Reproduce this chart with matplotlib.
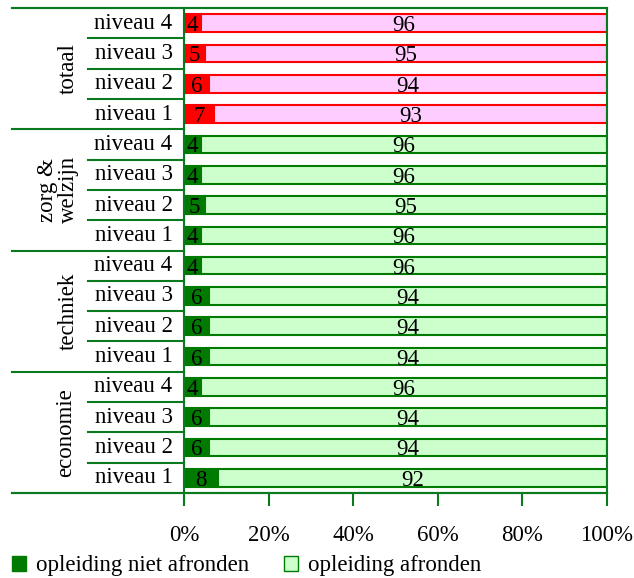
import matplotlib.pyplot as plt
from matplotlib.patches import Patch

# data, top to bottom
groups = ['totaal', 'zorg &\nwelzijn', 'techniek', 'economie']
levels = ['niveau 4', 'niveau 3', 'niveau 2', 'niveau 1']
niet_afronden = [4, 5, 6, 7,
                 4, 4, 5, 4,
                 4, 6, 6, 6,
                 4, 6, 6, 8]
afronden = [96, 95, 94, 93,
            96, 96, 95, 96,
            96, 94, 94, 94,
            96, 94, 94, 92]

green = '#0A7A1E'
dark = '#007A00'
light = '#CCFFCC'
red = '#FF0000'
pink = '#FFCCFF'

plt.rcParams['font.family'] = ['Liberation Serif', 'DejaVu Serif']
plt.rcParams['font.size'] = 16.5

fig = plt.figure(figsize=(6.34, 5.78), dpi=100)
ax = fig.add_axes([184 / 634, 1 - 493 / 578, 423 / 634, 485 / 578])

n = len(niet_afronden)
ys = list(range(n))
for i in ys:
    first = i < 4
    c1, c2, ec = (red, pink, red) if first else (dark, light, dark)
    ax.barh(i, niet_afronden[i], height=0.58, color=c1, edgecolor=ec, linewidth=1.5)
    ax.barh(i, afronden[i], left=niet_afronden[i], height=0.58,
            color=c2, edgecolor=ec, linewidth=1.5)
    ax.text(niet_afronden[i] / 2, i + 0.08, str(niet_afronden[i]), ha='center', va='center')
    ax.text(niet_afronden[i] + afronden[i] / 2, i + 0.08, str(afronden[i]),
            ha='center', va='center')

ax.set_xlim(0, 100)
ax.set_ylim(n - 0.5, -0.5)
ax.set_yticks([])
ax.set_xticks([0, 20, 40, 60, 80, 100])
ax.set_xticklabels(['0%', '20%', '40%', '60%', '80%', '100%'])
ax.tick_params(axis='x', length=9, width=1.5, color=green, pad=14)
for s in ax.spines.values():
    s.set_color(green)
    s.set_linewidth(1.5)

# row labels and separators on the left
trans = ax.get_yaxis_transform()
x_outer = (12 - 184) / 423
x_inner = (88 - 184) / 423
for i in ys:
    ax.text(-0.027, i, levels[i % 4], transform=trans, ha='right', va='center')
for k in range(n + 1):
    x0 = x_outer if k % 4 == 0 else x_inner
    ax.plot([x0, 0], [k - 0.5, k - 0.5], transform=trans, color=green,
            lw=1.5, clip_on=False)
ax.plot([x_outer, 1], [-0.5, -0.5], transform=trans, color=green, lw=1.5, clip_on=False)
ax.plot([x_outer, 1], [n - 0.5, n - 0.5], transform=trans, color=green, lw=1.5, clip_on=False)

gx = [(68 - 184) / 423, (58 - 184) / 423, (68 - 184) / 423, (66 - 184) / 423]
for g, name in enumerate(groups):
    ax.text(gx[g], g * 4 + 1.5, name, transform=trans, rotation=90,
            ha='center', va='center', linespacing=1.0)

handles = [Patch(facecolor=dark, edgecolor=dark, label='opleiding niet afronden'),
           Patch(facecolor=light, edgecolor=dark, label='opleiding afronden')]
fig.legend(handles=handles, loc='center left', bbox_to_anchor=(0.016, 1 - 566 / 578),
           ncol=2, frameon=False, handlelength=0.6, handleheight=0.65,
           handletextpad=0.45, columnspacing=1.5, borderaxespad=0, borderpad=0.1)

fig.savefig('out.png', dpi=100)
